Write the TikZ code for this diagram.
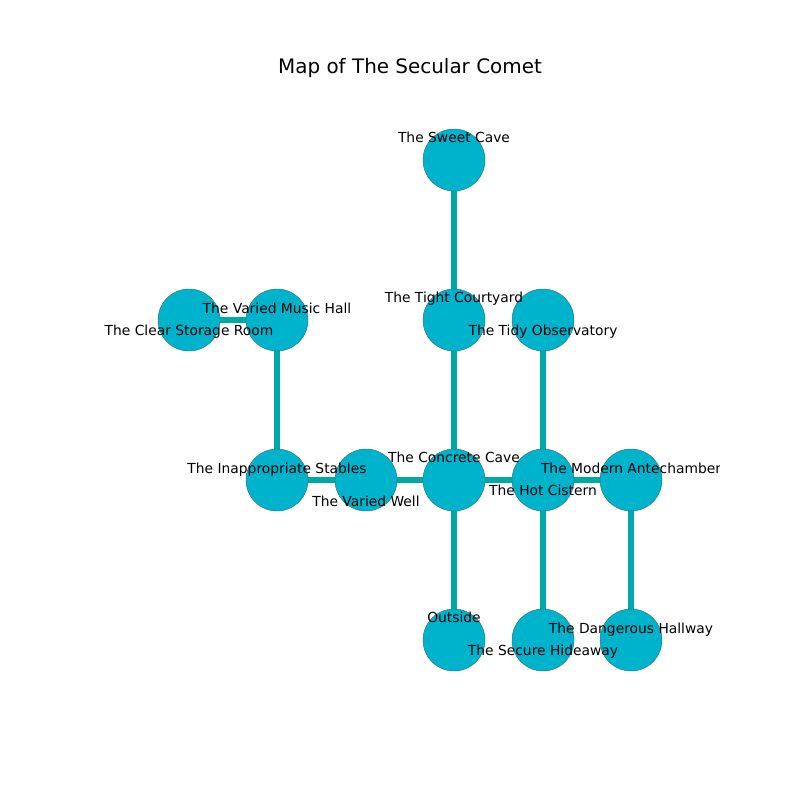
\documentclass[tikz,border=0pt]{standalone}
\usepackage{fontspec}
\setmainfont{DejaVu Sans}
\definecolor{roomfill}{RGB}{0,179,204}
\definecolor{roomedge}{RGB}{40,110,120}
\definecolor{corridor}{RGB}{0,168,168}
\begin{document}
\begin{tikzpicture}[x=0.254mm, y=-0.254mm, line cap=butt, font=\fontsize{10}{12}\selectfont]
				\tikzset{room/.style={circle, fill=roomfill, draw=roomedge, line width=0.3pt, minimum size=62*0.254mm, inner sep=0pt},
				passage/.style={draw=corridor, line width=3.9pt},
				roomname/.style={inner sep=0pt, anchor=center, text height=7.4pt, text depth=2.4pt, yshift=-1.5pt}}
				\fill[white] (0,0) rectangle (800,800);
				\path (454,160) coordinate (sweet)
				(454,320) coordinate (tight)
				(543,320) coordinate (tidy)
				(277,320) coordinate (music)
				(189,320) coordinate (clear)
				(277,480) coordinate (stables)
				(366,480) coordinate (well)
				(454,480) coordinate (concrete)
				(543,480) coordinate (cistern)
				(631,480) coordinate (ante)
				(454,640) coordinate (outside)
				(543,640) coordinate (hideaway)
				(631,640) coordinate (hallway);
				\node (title) at (410,68.5) {\fontsize{14.4}{17}\selectfont Map of The Secular Comet};
				\foreach\a/\b in {sweet/tight,tight/concrete,clear/music,music/stables,stables/well,well/concrete,concrete/cistern,cistern/ante,tidy/cistern,concrete/outside,cistern/hideaway,ante/hallway} \draw[passage] (\a)--(\b);
				\foreach\n in {sweet,tight,tidy,music,clear,stables,well,concrete,cistern,ante,outside,hideaway,hallway} \node[room] (\n-room) at (\n) {};
				\begin{scope}
				\clip (100,96) rectangle (719,712);
				\foreach\n/\dy/\t in {sweet/-23/The Sweet Cave,tight/-23/The Tight Courtyard,tidy/10/The Tidy Observatory,music/-12/The Varied Music Hall,clear/10/The Clear Storage Room,stables/-12/The Inappropriate Stables,well/21/The Varied Well,concrete/-23/The Concrete Cave,cistern/10/The Hot Cistern,ante/-12/The Modern Antechamber,outside/-23/Outside,hideaway/10/The Secure Hideaway,hallway/-12/The Dangerous Hallway} \path (\n) ++(0,\dy) node[roomname] (\n-name) {\t};
				\end{scope}
			\end{tikzpicture}
\end{document}
